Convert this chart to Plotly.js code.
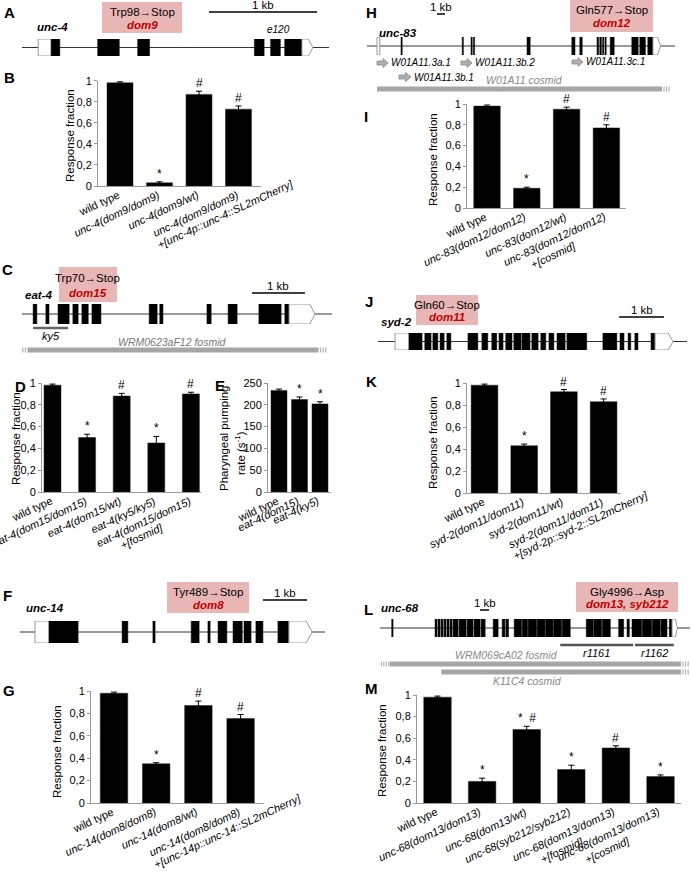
<!DOCTYPE html>
<html><head><meta charset="utf-8">
<script src="https://cdn.plot.ly/plotly-3.0.1.min.js"></script>
<style>html,body{margin:0;padding:0;background:#fff}#chart{width:691px;height:881px}</style>
</head><body><div id="chart"></div>
<script>
// ================= DATA =================
// --- bar panels ---
const catB = ['wild type','unc-4(dom9/dom9)','unc-4(dom9/wt)','unc-4(dom9/dom9) +[unc-4p::unc-4::SL2mCherry]'];
const valB = [0.98,0.03,0.87,0.73];
const errB = [0.01,0.01,0.03,0.03];
const sigB = ['','*','#','#'];

const catD = ['wild type','eat-4(dom15/dom15)','eat-4(dom15/wt)','eat-4(ky5/ky5)','eat-4(dom15/dom15) +[fosmid]'];
const valD = [0.98,0.50,0.88,0.45,0.90];
const errD = [0.01,0.03,0.025,0.06,0.015];
const sigD = ['','*','#','*','#'];

const catE = ['wild type','eat-4(dom15)','eat-4(ky5)'];
const valE = [233,212,202];
const errE = [3,6,5];
const sigE = ['','*','*'];

const catG = ['wild type','unc-14(dom8/dom8)','unc-14(dom8/wt)','unc-14(dom8/dom8) +[unc-14p::unc-14::SL2mCherry]'];
const valG = [0.98,0.35,0.87,0.755];
const errG = [0.01,0.01,0.04,0.035];
const sigG = ['','*','#','#'];

const catI = ['wild type','unc-83(dom12/dom12)','unc-83(dom12/wt)','unc-83(dom12/dom12) +[cosmid]'];
const valI = [0.98,0.19,0.95,0.77];
const errI = [0.01,0.01,0.02,0.03];
const sigI = ['','*','#','#'];

const catK = ['wild type','syd-2(dom11/dom11)','syd-2(dom11/wt)','syd-2(dom11/dom11) +[syd-2p::syd-2::SL2mCherry]'];
const valK = [0.98,0.43,0.92,0.83];
const errK = [0.01,0.015,0.02,0.025];
const sigK = ['','*','#','#'];

const catM = ['wild type','unc-68(dom13/dom13)','unc-68(dom13/wt)','unc-68(syb212/syb212)','unc-68(dom13/dom13) +[fosmid]','unc-68(dom13/dom13) +[cosmid]'];
const valM = [0.98,0.20,0.68,0.31,0.51,0.245];
const errM = [0.01,0.03,0.03,0.04,0.02,0.015];
const sigM = ['','*','*  #','*','#','*'];

const fracTicks = [0,0.2,0.4,0.6,0.8,1];
const fracTickText = ['0','0,2','0,4','0,6','0,8','1'];
const rateTicks = [0,50,100,150,200,250];

// --- gene models (positions in kb from left end of drawn line) ---
const aLength = 2.84;
const aUtr5 = [0.15,0.27];
const aExonStart = [0.27,0.70,1.07,2.15,2.30,2.43];
const aExonEnd   = [0.35,0.90,1.18,2.24,2.39,2.59];
const aUtr3 = [2.59,2.65,2.69];
const aMutation = [1.08];
const aAllele = [2.40];

const cLength = 5.85;
const cExonStart = [0.21,0.45,0.68,0.96,1.13,1.32,2.40,2.60,3.49,3.89,4.47,4.96];
const cExonEnd   = [0.28,0.51,0.89,1.06,1.25,1.49,2.55,2.66,3.57,4.06,4.89,5.04];
const cUtr3 = [5.04,5.43,5.53];
const cMutation = [0.79];
const cDeletion = [0.21,0.87];
const cFosmid = [0.11,5.58];

const fLength = 6.93;
const fUtr5 = [0.34,0.66];
const fExonStart = [0.66,2.32,3.02,3.89,4.27,4.50,4.84,5.09,5.36,5.86];
const fExonEnd   = [1.32,2.45,3.07,4.07,4.32,4.70,5.05,5.25,5.52,6.11];
const fUtr3 = [6.11,6.50,6.64];
const fMutation = [5.14];

const hLength = 38.5;
const hUtr5 = [1.25,1.6];
const hExonStart = [4.25,11.9,13.0,13.3,20.0,25.6,26.6,28.75,29.1,29.45,29.75,30.4,33.1,34.1,35.1];
const hExonEnd   = [4.4,12.05,13.15,13.45,20.4,26.0,26.9,28.95,29.3,29.6,29.9,30.9,33.9,34.8,35.75];
const hUtr3 = [35.75,36.3,36.7];
const hMutation = [30.75];
const hCosmid = [1.25,36.75];
const hIsoform = ['W01A11.3a.1','W01A11.3b.1','W01A11.3b.2','W01A11.3c.1'];
const hIsoStart = [1.25,4.0,11.75,25.63];
const hIsoEnd = [2.63,5.5,13.13,27.0];

const jLength = 6.87;
const jUtr5 = [0.38,0.69];
const jExonStart = [0.69,1.04,1.22,1.38,1.53,2.00,2.31,2.53,2.69,2.84,3.02,3.20,3.42,3.62,3.80,3.98,4.20,5.00,5.38,5.56,5.71,6.07];
const jExonEnd   = [0.98,1.18,1.33,1.47,1.62,2.22,2.44,2.64,2.78,2.98,3.18,3.38,3.56,3.73,3.91,4.16,4.64,5.31,5.47,5.62,5.78,6.16];
const jUtr3 = [6.16,6.45,6.56];
const jMutation = [0.93];

const lLength = 34.4;
const lExonStart = [1.3,6.11,6.44,6.78,7.11,7.44,7.78,8.11,8.78,9.67,10.44,11.22,12.56,13.56,13.97,14.89,15.78,16.44,17.44,18.37,19.26,20.22,22.89,23.74,24.67,26.48,27.41,27.96,29.11,30.22,31.15,32.11];
const lExonEnd   = [1.45,6.33,6.67,7.0,7.33,7.67,8.0,8.67,9.56,10.33,11.11,11.67,13.11,13.86,14.26,15.7,16.37,17.37,18.3,19.19,20.15,21.11,23.67,24.59,25.56,27.04,27.67,29.04,30.15,31.07,31.85,32.41];
const lUtr3 = [32.41,32.78,33.0];
const lMutation = [32.0];
const lAlleleName = ['r1161','r1162'];
const lAlleleStart = [20.0,28.3];
const lAlleleEnd = [28.1,32.6];
const lFosmid = [1.1,33.3];
const lCosmid = [6.8,33.3];

// ================= BUILD =================
const W=691, H=881;
const fx = p => p/W, fy = p => 1 - p/H;
const FONT = '"Liberation Sans", Arial, sans-serif';
const traces=[], shapes=[], annots=[];
const layout = {width:W,height:H,margin:{l:0,r:0,t:0,b:0},showlegend:false,
  paper_bgcolor:'#fff',plot_bgcolor:'rgba(0,0,0,0)',
  font:{family:FONT,size:11,color:'#000'},shapes:shapes,annotations:annots};

const ctx = document.createElement('canvas').getContext('2d');
function textW(s, italic, size){ ctx.font = (italic?'italic ':'') + size + 'px "Liberation Sans"'; return ctx.measureText(s).width; }
const LBL = 11, LH = 13;
const ANG = 25*Math.PI/180, CS = Math.cos(ANG), SN = Math.sin(ANG);

function axNames(n){ const s = n===1?'':String(n); return {xa:'xaxis'+s, ya:'yaxis'+s, xr:'x'+s, yr:'y'+s}; }

// rotated category labels: first line ends at the category position; later lines
// start with the first one (or are shifted in under it when shorter)
function catLabels(cats, centers, axisY){
  cats.forEach((cat,i)=>{
    const italic = cat!=='wild type';
    const lines = italic ? cat.split(' +').map((p,j)=>j?'+'+p:p) : [cat];
    const ws = lines.map(l=>textW(l, italic, LBL));
    const Tx = centers[i] - 4, Ty = axisY + 2;
    const S1x = Tx - ws[0]*CS, S1y = Ty + ws[0]*SN;
    lines.forEach((l,j)=>{
      const off = 0.75*Math.max(0,(ws[0]-ws[j])/2);
      const tlx = S1x + j*LH*SN + off*CS, tly = S1y + j*LH*CS - off*SN;
      const cx = tlx + ws[j]/2*CS + LH/2*SN, cy = tly - ws[j]/2*SN + LH/2*CS;
      annots.push({xref:'paper',yref:'paper',x:fx(cx),y:fy(cy),xanchor:'center',yanchor:'middle',textangle:-25,
        text: italic?'<i>'+l+'</i>':l, showarrow:false, borderpad:0, font:{size:LBL,family:FONT,color:'#000'}});
    });
  });
}

function barPanel(n, cats, vals, errs, sigs, g){
  const a = axNames(n), k = cats.length;
  const half = (g.c0-g.ax)/g.step;
  layout[a.xa] = {domain:[fx(g.ax), fx(g.ax + (k-1)*g.step + 2*(g.c0-g.ax))], range:[-half, k-1+half],
    type:'category', anchor:a.yr, tickvals:cats, showticklabels:false, ticks:'',
    showline:true, linecolor:'#999', linewidth:1, showgrid:false, zeroline:false, fixedrange:true, automargin:false};
  layout[a.ya] = {domain:[fy(g.y0), fy(g.y1)], range:[0,g.ymax], anchor:a.xr, tickvals:g.tv, ticktext:g.tt,
    ticks:'outside', ticklen:3, tickcolor:'#999', showline:true, linecolor:'#999', linewidth:1,
    showgrid:false, zeroline:false, tickfont:{size:11,family:FONT,color:'#000'}, fixedrange:true, automargin:false};
  traces.push({type:'bar', x:cats, y:vals, xaxis:a.xr, yaxis:a.yr, width:g.bw/g.step,
    marker:{color:'#000', line:{color:'#222',width:0.5}},
    error_y:{type:'data', array:errs, symmetric:true, color:'#000', thickness:1, width:3},
    hoverinfo:'none', cliponaxis:false});
  cats.forEach((c,i)=>{ if(sigs[i]) annots.push({xref:a.xr, yref:a.yr, x:c, y:vals[i]+errs[i], text:sigs[i],
    showarrow:false, xanchor:'center', yanchor:'bottom', yshift:-1, font:{size:12,family:FONT}}); });
  catLabels(cats, cats.map((c,i)=>g.c0+i*g.step), g.y0);
}

function genePanel(n, g, len, utr5, exS, exE, utr3, muts, mutColor){
  const a = axNames(n);
  layout[a.xa] = {domain:[fx(g.x0),fx(g.x1)], range:[0,len], visible:false, fixedrange:true, anchor:a.yr};
  layout[a.ya] = {domain:[fy(g.bot),fy(g.top)], range:[-1,1], visible:false, fixedrange:true, anchor:a.xr};
  shapes.push({type:'line', xref:a.xr, yref:a.yr, x0:0, x1:len, y0:0, y1:0, line:{color:'#333',width:1}});
  if(utr5) shapes.push({type:'rect', xref:a.xr, yref:a.yr, x0:utr5[0], x1:utr5[1], y0:-1, y1:1, fillcolor:'#fff', line:{color:'#999',width:1}});
  exS.forEach((s,i)=>shapes.push({type:'rect', xref:a.xr, yref:a.yr, x0:s, x1:exE[i], y0:-1, y1:1, fillcolor:'#000', line:{color:'#000',width:0.5}}));
  if(utr3) shapes.push({type:'path', xref:a.xr, yref:a.yr,
    path:`M${utr3[0]},-1L${utr3[1]},-1L${utr3[2]},0L${utr3[1]},1L${utr3[0]},1Z`, fillcolor:'#fff', line:{color:'#999',width:1}});
  const halfPx = (g.bot-g.top)/2;
  traces.push({type:'scatter', mode:'markers', x:muts, y:muts.map(()=>1+4/halfPx), xaxis:a.xr, yaxis:a.yr,
    marker:{symbol:'triangle-down', size:8, color:mutColor||'#c00000'}, cliponaxis:false, hoverinfo:'none'});
  return a;
}
function dataTxt(a, x, ypx, text, opt){ annots.push(Object.assign({xref:a.xr, yref:'paper', x:x, y:fy(ypx), text:text, showarrow:false, xanchor:'center', yanchor:'middle', font:{size:11,family:FONT,color:'#000'}}, opt||{})); }
function scaleBar(a, x0, ypx){
  shapes.push({type:'line', xref:a.xr, yref:'paper', x0:x0, x1:x0+1, y0:fy(ypx), y1:fy(ypx), line:{color:'#000',width:1.5}});
  dataTxt(a, x0+0.5, ypx-7, '1 kb', {font:{size:11.5,family:FONT,color:'#000'}});
}
function clone(a, range, ypx, color, w, hatchL, hatchR){
  shapes.push({type:'line', xref:a.xr, yref:'paper', x0:range[0], x1:range[1], y0:fy(ypx), y1:fy(ypx), line:{color:color,width:w}});
  if(hatchL) shapes.push({type:'line', xref:a.xr, yref:'paper', x0:range[0]-hatchL, x1:range[0], y0:fy(ypx), y1:fy(ypx), line:{color:color,width:w,dash:'1px,1.5px'}});
  if(hatchR) shapes.push({type:'line', xref:a.xr, yref:'paper', x0:range[1], x1:range[1]+hatchR, y0:fy(ypx), y1:fy(ypx), line:{color:color,width:w,dash:'1px,1.5px'}});
}
function txt(x, y, text, opt){ annots.push(Object.assign({xref:'paper', yref:'paper', x:fx(x), y:fy(y), text:text, showarrow:false, xanchor:'center', yanchor:'middle', font:{size:11.5,family:FONT,color:'#000'}}, opt||{})); }
function mutBox(x0,x1,y0,y1,l1,l2){
  shapes.push({type:'rect', xref:'paper', yref:'paper', x0:fx(x0), x1:fx(x1), y0:fy(y1), y1:fy(y0), fillcolor:'#e9b6b6', line:{width:0}, layer:'below'});
  const cx=(x0+x1)/2;
  txt(cx, y0+(y1-y0)*0.32, l1, {font:{size:11.5,family:FONT,color:'#000'}});
  txt(cx, y0+(y1-y0)*0.73, '<b><i>'+l2+'</i></b>', {font:{size:11.5,family:FONT,color:'#c00000'}});
}
function yTitle(x, y, text, size){ txt(x, y, text, {textangle:-90, font:{size:size||11.5,family:FONT,color:'#000'}}); }

// ---- bar panels ----
barPanel(1, catB, valB, errB, sigB, {ax:98, c0:120, step:39.5, bw:26, y0:186, y1:80.7, ymax:1, tv:fracTicks, tt:fracTickText});
barPanel(2, catD, valD, errD, sigD, {ax:42, c0:52.5, step:34.6, bw:17, y0:492, y1:383, ymax:1, tv:fracTicks, tt:fracTickText});
barPanel(3, catE, valE, errE, sigE, {ax:268, c0:279, step:20.5, bw:16, y0:492, y1:383, ymax:250, tv:rateTicks, tt:rateTicks.map(String)});
barPanel(4, catG, valG, errG, sigG, {ax:91, c0:114, step:42.2, bw:27.5, y0:803, y1:691, ymax:1, tv:fracTicks, tt:fracTickText});
barPanel(5, catI, valI, errI, sigI, {ax:467, c0:487, step:39.8, bw:26.5, y0:208, y1:104, ymax:1, tv:fracTicks, tt:fracTickText});
barPanel(6, catK, valK, errK, sigK, {ax:467, c0:484.5, step:39.7, bw:26.7, y0:493, y1:383, ymax:1, tv:fracTicks, tt:fracTickText});
barPanel(7, catM, valM, errM, sigM, {ax:417, c0:437.5, step:44.6, bw:27.5, y0:803, y1:695, ymax:1, tv:fracTicks, tt:fracTickText});

yTitle(70,136,'Response fraction');
yTitle(16,439,'Response fraction');
yTitle(224,438,'Pharyngeal pumping');
yTitle(240,453,'rate (s<sup>-1</sup>)');
yTitle(57,752,'Response fraction');
yTitle(433,160,'Response fraction');
yTitle(433,443,'Response fraction');
yTitle(382,750,'Response fraction');

// ---- gene panels ----
const gA = genePanel(8, {x0:22,x1:329,top:39,bot:56}, aLength, aUtr5, aExonStart, aExonEnd, aUtr3, aMutation);
traces.push({type:'scatter', mode:'markers', x:aAllele, y:[1+4/8.5], xaxis:gA.xr, yaxis:gA.yr, marker:{symbol:'triangle-down', size:8, color:'#000'}, cliponaxis:false, hoverinfo:'none'});
dataTxt(gA, aAllele[0]-0.03, 29, '<i>e120</i>', {font:{size:10,family:FONT,color:'#000'}});
scaleBar(gA, 1.73, 12);
mutBox(102,182,2,33,'Trp98→Stop','dom9');
txt(52,27,'<b><i>unc-4</i></b>');

const gC = genePanel(9, {x0:22,x1:332,top:304,bot:324}, cLength, null, cExonStart, cExonEnd, cUtr3, cMutation);
scaleBar(gC, 4.34, 293);
mutBox(59,117,267,302,'Trp70→Stop','dom15');
txt(38,295,'<b><i>eat-4</i></b>');
clone(gC, cDeletion, 328, '#666', 2.5, 0, 0);
dataTxt(gC, (cDeletion[0]+cDeletion[1])/2, 336, '<i>ky5</i>');
clone(gC, cFosmid, 350, '#a6a6a6', 5, 0.15, 0.19);
dataTxt(gC, (cFosmid[0]+cFosmid[1])/2, 342, '<i>WRM0623aF12 fosmid</i>', {font:{size:10.5,family:FONT,color:'#777'}});

const gF = genePanel(10, {x0:20,x1:325,top:621,bot:643}, fLength, fUtr5, fExonStart, fExonEnd, fUtr3, fMutation);
scaleBar(gF, 5.52, 600);
mutBox(167,249,582,613,'Tyr489→Stop','dom8');
txt(45,608,'<b><i>unc-14</i></b>');

const gH = genePanel(11, {x0:367,x1:675,top:37,bot:55}, hLength, hUtr5, hExonStart, hExonEnd, hUtr3, hMutation);
scaleBar(gH, 8.75, 14);
mutBox(570,653,0,32,'Gln577→Stop','dom12');
txt(398,33,'<b><i>unc-83</i></b>');
const isoY = [63,77,63,62];
hIsoform.forEach((nm,i)=>{
  const x0=hIsoStart[i], x1=hIsoEnd[i], xh=x0+(x1-x0)*0.55, y=isoY[i];
  shapes.push({type:'path', xref:gH.xr, yref:'paper', fillcolor:'#b0b0b0', line:{color:'#888',width:0.8},
    path:`M${x0},${fy(y-2)}L${xh},${fy(y-2)}L${xh},${fy(y-4.5)}L${x1},${fy(y)}L${xh},${fy(y+4.5)}L${xh},${fy(y+2)}L${x0},${fy(y+2)}Z`});
  dataTxt(gH, x1, y, '<i>'+nm+'</i>', {xanchor:'left', xshift:1, font:{size:10,family:FONT,color:'#000'}});
});
clone(gH, hCosmid, 89, '#a6a6a6', 5, 0, 1.1);
dataTxt(gH, 19.7, 80, '<i>W01A11 cosmid</i>', {font:{size:10.5,family:FONT,color:'#888'}});

const gJ = genePanel(12, {x0:378,x1:687,top:333,bot:350}, jLength, jUtr5, jExonStart, jExonEnd, jUtr3, jMutation);
scaleBar(gJ, 5.36, 317);
mutBox(416,478,295,325,'Gln60→Stop','dom11');
txt(397,322,'<b><i>syd-2</i></b>');

const gL = genePanel(13, {x0:380,x1:690,top:619,bot:637}, lLength, null, lExonStart, lExonEnd, lUtr3, lMutation);
scaleBar(gL, 11.1, 610);
mutBox(576,678,582,612,'Gly4996→Asp','dom13, syb212');
txt(400,608,'<b><i>unc-68</i></b>');
lAlleleName.forEach((nm,i)=>{
  clone(gL, [lAlleleStart[i], lAlleleEnd[i]], 645, '#555', 2.5, 0, 0);
  dataTxt(gL, (lAlleleStart[i]+lAlleleEnd[i])/2, 653, '<i>'+nm+'</i>');
});
clone(gL, lFosmid, 664, '#a6a6a6', 5, 1.0, 1.1);
dataTxt(gL, 14.0, 655, '<i>WRM069cA02 fosmid</i>', {font:{size:10.5,family:FONT,color:'#888'}});
clone(gL, lCosmid, 672, '#a6a6a6', 5, 0, 1.1);
dataTxt(gL, 16.4, 681, '<i>K11C4 cosmid</i>', {font:{size:10.5,family:FONT,color:'#888'}});

// ---- panel letters ----
const letters = [['A',9,12],['B',9,77],['C',8,269],['D',20,386],['E',220,385],['F',8,595],['G',9,690],
  ['H',371,12],['I',366,116],['J',369,301],['K',372,381],['L',368,609],['M',372,688]];
letters.forEach(l=>txt(l[1],l[2],'<b>'+l[0]+'</b>',{font:{size:15,family:FONT,color:'#000'}}));

Plotly.newPlot('chart', traces, layout, {staticPlot:true, displayModeBar:false});
</script></body></html>
